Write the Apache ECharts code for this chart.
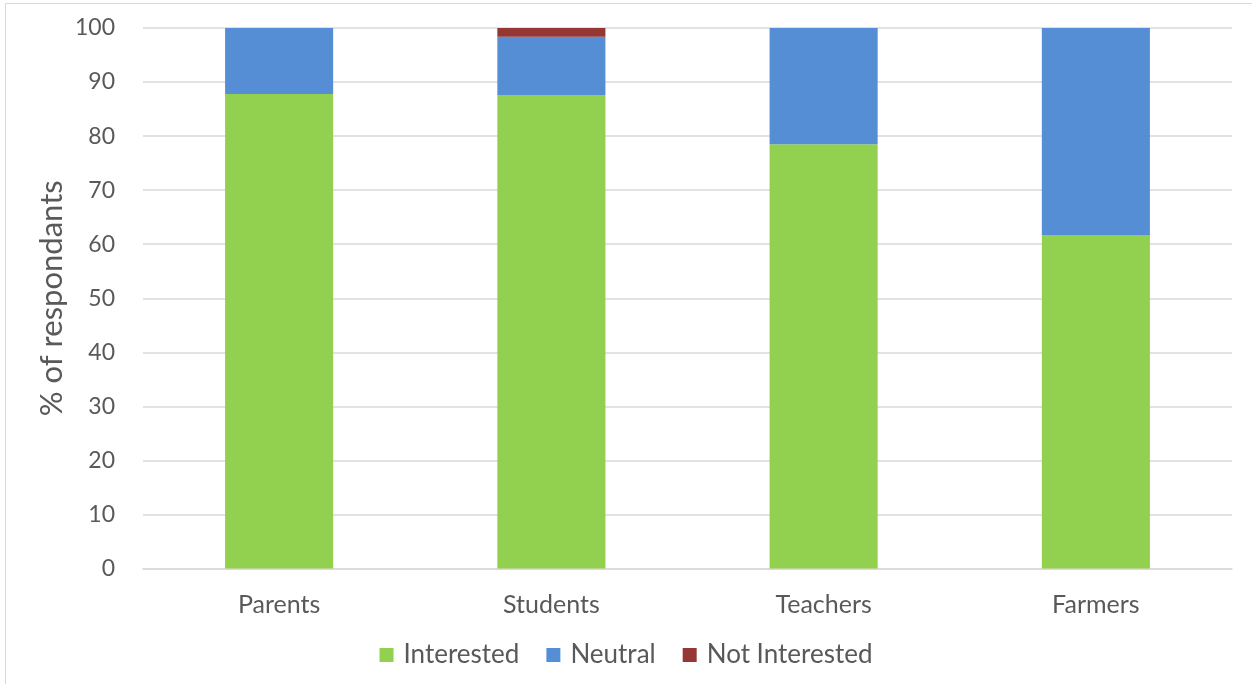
<!DOCTYPE html>
<html><head><meta charset="utf-8">
<script src="https://cdn.jsdelivr.net/npm/echarts@6/dist/echarts.min.js"></script>
<style>html,body{margin:0;padding:0;background:#fff}#c{width:1252px;height:684px;box-sizing:border-box}#frame{position:absolute;left:5px;top:3px;width:1246px;height:690px;border:1px solid #d9d9d9;pointer-events:none}</style>
</head><body><div id="c"></div><div id="frame"></div>
<script>
const categories = ['Parents', 'Students', 'Teachers', 'Farmers'];
const interested = [87.8, 87.6, 78.5, 61.6];
const neutral = [12.2, 10.8, 21.5, 38.4];
const notInterested = [0, 1.6, 0, 0];
const seriesNames = ['Interested', 'Neutral', 'Not Interested'];
const colors = ['#92D050', '#558ED5', '#953735'];
const font = 'Lato, "Open Sans", sans-serif';
const chart = echarts.init(document.getElementById('c'));
const mk = (name, data, color) => ({
  name, type: 'bar', stack: 'a', data, barWidth: '39.7%',
  itemStyle: { color }, emphasis: { disabled: true }
});
chart.setOption({
  animation: false,
  textStyle: { fontFamily: font },
  grid: { left: 143, right: 20, top: 28, bottom: 115.5 },
  legend: {
    bottom: 11, left: 'center', itemWidth: 14, itemHeight: 14, itemGap: 27,
    icon: 'rect',
    textStyle: { fontSize: 26, color: '#595959', fontFamily: font, padding: [0, 0, 0, 5] },
    data: seriesNames
  },
  xAxis: {
    type: 'category', data: categories,
    axisLine: { lineStyle: { color: '#d9d9d9', width: 1.5 } },
    axisTick: { show: false },
    axisLabel: { fontSize: 25, color: '#595959', margin: 24, fontFamily: font }
  },
  yAxis: {
    type: 'value', min: 0, max: 100, interval: 10,
    name: '% of respondants', nameLocation: 'middle', nameGap: 76, nameMoveOverlap: false,
    nameTextStyle: { fontSize: 31, color: '#595959', fontFamily: font },
    axisLine: { show: false }, axisTick: { show: false },
    axisLabel: { fontSize: 23, color: '#595959', margin: 28, fontFamily: font },
    splitLine: { lineStyle: { color: '#d9d9d9', width: 1.5 } }
  },
  series: [
    mk(seriesNames[0], interested, colors[0]),
    mk(seriesNames[1], neutral, colors[1]),
    mk(seriesNames[2], notInterested, colors[2])
  ]
});
</script></body></html>
